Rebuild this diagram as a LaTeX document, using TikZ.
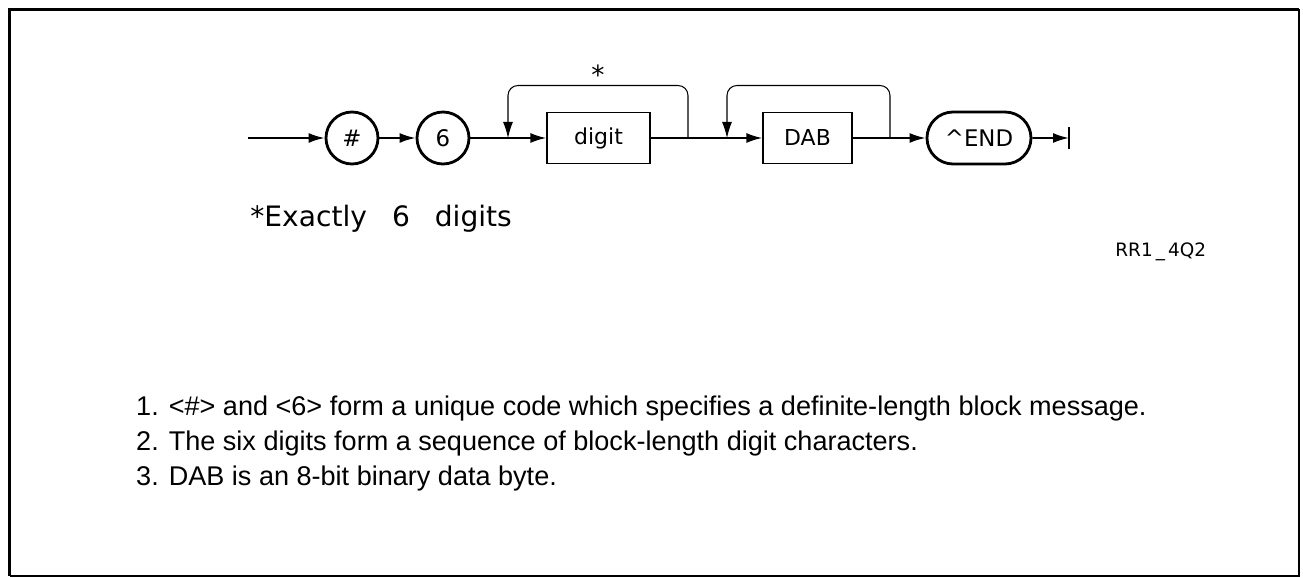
\documentclass[tikz,border=0pt]{standalone}
\usepackage{fontspec}
\setmainfont{Liberation Sans}
\newfontfamily\plotfont{DejaVu Sans}
\usetikzlibrary{shapes,arrows.meta,positioning,calc}

\begin{document}
\begin{tikzpicture}[
    term/.style={draw, circle, line width=1.6pt, minimum size=1.04cm, inner sep=0pt,
                font=\plotfont\fontsize{13}{13}\selectfont},
    nonterm/.style={draw, line width=0.7pt, minimum height=1.02cm, inner sep=0pt,
                font=\plotfont\fontsize{12.5}{12.5}\selectfont},
    flow/.style={line width=1.1pt, -{Latex[length=3.2mm,width=2mm]}},
    loopback/.style={line width=0.6pt, rounded corners=0.2cm, -{Latex[length=3.2mm,width=2mm]}},
    note/.style={anchor=base west, font=\fontsize{15.4}{18}\selectfont}
]
    \useasboundingbox (0,0) rectangle (26.06,-11.56);

    % Frame
    \draw[line width=2.2pt] (0.19,-11.52) -- (0.19,-0.19) -- (25.98,-0.19);
    \draw[line width=1.1pt] (25.98,-0.19) -- (25.98,-11.52) -- (0.19,-11.52);

    % Syntax diagram
    \coordinate (start) at (4.96,-2.76);
    \node[term] (hash) at (7.04,-2.76) {\#};
    \node[term] (six) at (8.86,-2.76) {6};
    \coordinate (j1) at (10.16,-2.76);
    \node[nonterm, minimum width=2.06cm] (digit) at (11.97,-2.76) {digit};
    \coordinate (r1) at (13.76,-2.76);
    \coordinate (j2) at (14.54,-2.76);
    \node[nonterm, minimum width=1.78cm] (dab) at (16.15,-2.76) {DAB};
    \coordinate (r2) at (17.80,-2.76);
    \node[draw, rounded rectangle, line width=1.6pt, minimum width=2.08cm, minimum height=1.04cm,
          inner sep=0pt, font=\plotfont\fontsize{13}{13}\selectfont] (endnode) at (19.58,-2.76) {\textasciicircum END};
    \coordinate (stop) at (21.38,-2.76);

    \draw[flow] (start) -- (hash);
    \draw[flow] (hash) -- (six);
    \draw[line width=1.1pt] (six) -- (j1);
    \draw[flow] (j1) -- (digit);
    \draw[line width=1.1pt] (digit) -- (j2);
    \draw[flow] (j2) -- (dab);
    \draw[flow] (dab) -- (endnode);
    \draw[flow] (endnode) -- (stop);
    \draw[line width=1.1pt] ($(stop)+(0,0.22)$) -- ($(stop)+(0,-0.22)$);

    % Loops
    \draw[loopback] (r1) -- ++(0,1.05) -| (j1);
    \draw[loopback] (r2) -- ++(0,1.05) -| (j2);
    \node[font=\plotfont\fontsize{15}{15}\selectfont] (star) at (11.96,-1.50) {*};

    % Remarks
    \node[anchor=base west, inner sep=0pt, font=\plotfont\fontsize{16}{18}\selectfont] (exact) at (5.00,-4.54)
        {*Exactly\hspace{0.5cm}6\hspace{0.5cm}digits};
    \node[anchor=base west, inner sep=0pt, font=\plotfont\fontsize{10.5}{12}\selectfont] (figid) at (22.30,-5.14) {RR1\,\_\,4Q2};

    % Notes
    \node[note] (note1) at (2.60,-8.32) {1. <\#> and <6> form a unique code which specifies a definite-length block message.};
    \node[note] (note2) at (2.60,-9.02) {2. The six digits form a sequence of block-length digit characters.};
    \node[note] (note3) at (2.60,-9.72) {3. DAB is an 8-bit binary data byte.};
\end{tikzpicture}
\end{document}
